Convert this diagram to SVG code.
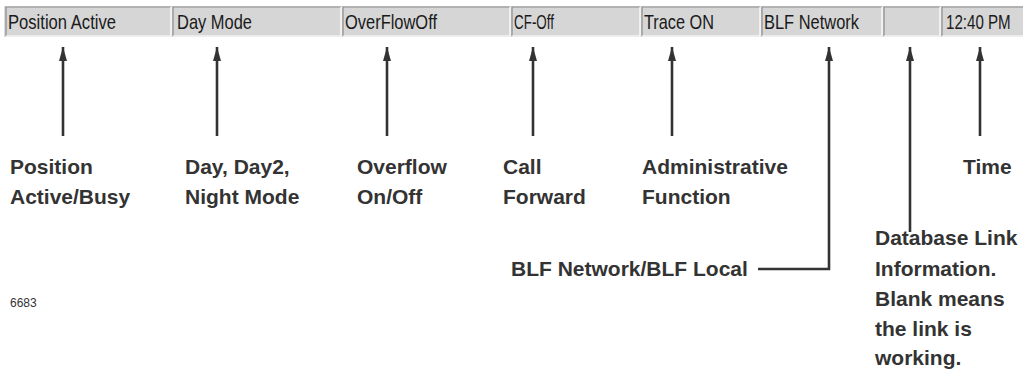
<svg xmlns="http://www.w3.org/2000/svg" width="1023" height="370" viewBox="0 0 1023 370">
<style>
.bar{font-family:"Liberation Sans",Arial,sans-serif;font-size:21px;fill:#1a1a1a}
.lbl{font-family:"Liberation Sans",Arial,sans-serif;font-size:21px;font-weight:bold;fill:#333333}
.pnl{fill:#d6d6d6}
.dk{stroke:#8a8a8a;stroke-width:1.2;fill:none}
.lt{stroke:#ffffff;stroke-width:1.2;fill:none}
.cn{stroke:#333333;stroke-width:2.6;fill:none}
.num{font-family:"Liberation Sans",Arial,sans-serif;font-size:12px;fill:#333333}
</style>
<defs>
<marker id="ah" markerUnits="userSpaceOnUse" markerWidth="16" markerHeight="10" refX="14" refY="4.5" orient="auto" viewBox="0 0 16 9">
<path d="M0,0.5 L14,4.5 L0,8.5 z" fill="#333333"/>
</marker>
</defs>
<rect x="0" y="0" width="1023" height="370" fill="#ffffff"/>
<g id="statusbar">
<rect x="4" y="6" width="1019" height="31" fill="#dcdcdc"/>
<g id="p1"><rect class="pnl" x="6" y="7" width="165" height="29"/><path class="dk" d="M6,36 V7 H171"/><path class="lt" d="M171,7 V36 H6"/><text class="bar" x="8" y="29" textLength="108" lengthAdjust="spacingAndGlyphs">Position Active</text></g>
<g id="p2"><rect class="pnl" x="173" y="7" width="168" height="29"/><path class="dk" d="M173,36 V7 H341"/><path class="lt" d="M341,7 V36 H173"/><text class="bar" x="177" y="29" textLength="75" lengthAdjust="spacingAndGlyphs">Day Mode</text></g>
<g id="p3"><rect class="pnl" x="343" y="7" width="167" height="29"/><path class="dk" d="M343,36 V7 H510"/><path class="lt" d="M510,7 V36 H343"/><text class="bar" x="345" y="29" textLength="92" lengthAdjust="spacingAndGlyphs">OverFlowOff</text></g>
<g id="p4"><rect class="pnl" x="512" y="7" width="128" height="29"/><path class="dk" d="M512,36 V7 H640"/><path class="lt" d="M640,7 V36 H512"/><text class="bar" x="514" y="29" textLength="40" lengthAdjust="spacingAndGlyphs">CF-Off</text></g>
<g id="p5"><rect class="pnl" x="642" y="7" width="118" height="29"/><path class="dk" d="M642,36 V7 H760"/><path class="lt" d="M760,7 V36 H642"/><text class="bar" x="644" y="29" textLength="70" lengthAdjust="spacingAndGlyphs">Trace ON</text></g>
<g id="p6"><rect class="pnl" x="762" y="7" width="120" height="29"/><path class="dk" d="M762,36 V7 H882"/><path class="lt" d="M882,7 V36 H762"/><text class="bar" x="764" y="29" textLength="95" lengthAdjust="spacingAndGlyphs">BLF Network</text></g>
<g id="p7"><rect class="pnl" x="884" y="7" width="56" height="29"/><path class="dk" d="M884,36 V7 H940"/><path class="lt" d="M940,7 V36 H884"/></g>
<g id="p8"><rect class="pnl" x="942" y="7" width="81" height="29"/><path class="dk" d="M942,36 V7 H1023"/><path class="lt" d="M942,36 H1023"/><text class="bar" transform="translate(946,29) scale(0.72,1)" x="0" y="0">12:40 PM</text></g>
</g>
<g id="connectors">
<line class="cn" x1="63" y1="136" x2="63" y2="47" marker-end="url(#ah)"/>
<line class="cn" x1="217" y1="136" x2="217" y2="47" marker-end="url(#ah)"/>
<line class="cn" x1="387" y1="136" x2="387" y2="47" marker-end="url(#ah)"/>
<line class="cn" x1="533" y1="136" x2="533" y2="47" marker-end="url(#ah)"/>
<line class="cn" x1="672" y1="136" x2="672" y2="47" marker-end="url(#ah)"/>
<path class="cn" d="M758,269 H829 V47" marker-end="url(#ah)"/>
<line class="cn" x1="910" y1="232" x2="910" y2="47" marker-end="url(#ah)"/>
<line class="cn" x1="980" y1="136" x2="980" y2="47" marker-end="url(#ah)"/>
</g>
<g id="lbl-position"><text class="lbl" x="10" y="174">Position</text><text class="lbl" x="10" y="204">Active/Busy</text></g>
<g id="lbl-day"><text class="lbl" x="185" y="174">Day, Day2,</text><text class="lbl" x="185" y="204">Night Mode</text></g>
<g id="lbl-overflow"><text class="lbl" x="357" y="174">Overflow</text><text class="lbl" x="357" y="204">On/Off</text></g>
<g id="lbl-call"><text class="lbl" x="503" y="174">Call</text><text class="lbl" x="503" y="204">Forward</text></g>
<g id="lbl-admin"><text class="lbl" x="642" y="174">Administrative</text><text class="lbl" x="642" y="204">Function</text></g>
<g id="lbl-time"><text class="lbl" x="963" y="174">Time</text></g>
<g id="lbl-blf"><text class="lbl" x="511" y="276">BLF Network/BLF Local</text></g>
<g id="lbl-db"><text class="lbl" x="875" y="245">Database Link</text><text class="lbl" x="875" y="276">Information.</text><text class="lbl" x="875" y="306">Blank means</text><text class="lbl" x="875" y="336">the link is</text><text class="lbl" x="875" y="365">working.</text></g>
<text class="num" x="10" y="307">6683</text>
</svg>
